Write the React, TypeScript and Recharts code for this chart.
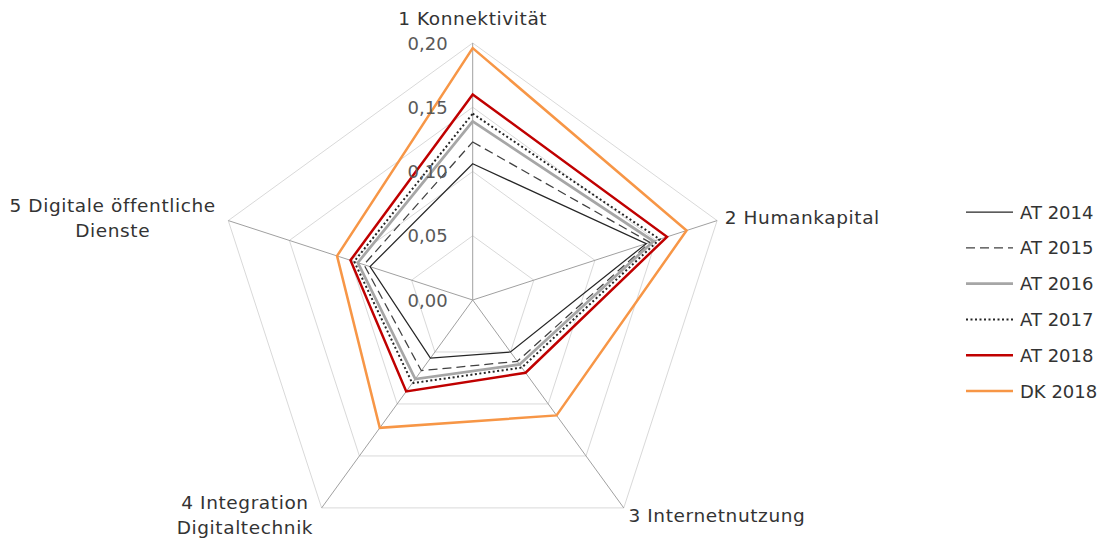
import React from "react";
import {
  RadarChart,
  Radar,
  PolarGrid,
  PolarAngleAxis,
  PolarRadiusAxis,
} from "recharts";

// DESI-Dimensionen, Werte
const CATEGORIES = [
  "1 Konnektivität",
  "2 Humankapital",
  "3 Internetnutzung",
  "4 Integration\nDigitaltechnik",
  "5 Digitale öffentliche\nDienste",
];

const AT_2014 = [0.106, 0.142, 0.05, 0.056, 0.084];
const AT_2015 = [0.123, 0.145, 0.059, 0.068, 0.089];
const AT_2016 = [0.139, 0.148, 0.062, 0.076, 0.094];
const AT_2017 = [0.145, 0.153, 0.065, 0.08, 0.097];
const AT_2018 = [0.16, 0.159, 0.07, 0.088, 0.1];
const DK_2018 = [0.196, 0.175, 0.111, 0.123, 0.111];

const RADIUS_TICKS = [0, 0.05, 0.1, 0.15, 0.2];

const SERIES = [
  { key: "at2014", name: "AT 2014", values: AT_2014, color: "#262626", width: 1.25, dash: undefined },
  { key: "at2015", name: "AT 2015", values: AT_2015, color: "#404040", width: 1.25, dash: "9 5" },
  { key: "at2016", name: "AT 2016", values: AT_2016, color: "#a6a6a6", width: 2.75, dash: undefined },
  { key: "at2017", name: "AT 2017", values: AT_2017, color: "#262626", width: 2, dash: "2 2.5" },
  { key: "at2018", name: "AT 2018", values: AT_2018, color: "#c00000", width: 2.5, dash: undefined },
  { key: "dk2018", name: "DK 2018", values: DK_2018, color: "#f79646", width: 2.5, dash: undefined },
];

const data = CATEGORIES.map((axis, i) => {
  const row: Record<string, any> = { axis };
  SERIES.forEach((s) => (row[s.key] = s.values[i]));
  return row;
});

const FONT = "'DejaVu Sans', sans-serif";
const TEXT = "#333333";

// where each dimension label sits relative to its tick point
const LABEL_LAYOUT = [
  { anchor: "middle", dx: 0, dy: -17 },
  { anchor: "start", dx: 0, dy: -1 },
  { anchor: "start", dx: 0, dy: 1 },
  { anchor: "middle", dx: -72, dy: -12 },
  { anchor: "middle", dx: -108, dy: -13 },
];

function AngleTick(props: any) {
  const { x, y, payload, index } = props;
  const lay = LABEL_LAYOUT[index] || LABEL_LAYOUT[0];
  const lines = String(payload.value).split("\n");
  return (
    <text
      x={x + lay.dx}
      y={y + lay.dy}
      textAnchor={lay.anchor}
      dominantBaseline="central"
      fill={TEXT}
      fontFamily={FONT}
      fontSize={18.5}
      letterSpacing={0.6}
    >
      {lines.map((l, i) => (
        <tspan key={i} x={x + lay.dx} dy={i === 0 ? 0 : 25}>
          {l}
        </tspan>
      ))}
    </text>
  );
}

function RadiusTick(props: any) {
  const { x, y, payload } = props;
  return (
    <text
      x={x - 25}
      y={y}
      textAnchor="end"
      dominantBaseline="central"
      fill="#595959"
      fontFamily={FONT}
      fontSize={18}
    >
      {Number(payload.value).toFixed(2).replace(".", ",")}
    </text>
  );
}

function LegendBox() {
  return (
    <svg
      width={140}
      height={220}
      style={{ position: "absolute", left: 950, top: 188 }}
    >
      {SERIES.map((s, i) => {
        const y = 16 + i * 35.8;
        return (
          <g key={s.key}>
            <line
              x1={8}
              x2={55}
              y1={y}
              y2={y}
              stroke={s.color}
              strokeWidth={s.width}
              strokeDasharray={s.dash}
            />
            <text
              x={62}
              y={y}
              dominantBaseline="central"
              fill={TEXT}
              fontFamily={FONT}
              fontSize={18}
            >
              {s.name}
            </text>
          </g>
        );
      })}
    </svg>
  );
}

export default function App() {
  return (
    <div style={{ position: "relative", width: 1090, height: 533, background: "#fff" }}>
      <RadarChart
        width={1090}
        height={533}
        data={data}
        cx={464.7}
        cy={292}
        outerRadius={257}
        margin={{ top: 0, right: 0, bottom: 0, left: 0 }}
      >
        <PolarGrid gridType="polygon" radialLines={false} stroke="#d9d9d9" strokeWidth={1} />
        <PolarGrid gridType="polygon" polarRadius={[0]} stroke="#a0a0a0" strokeWidth={1} />
        <PolarAngleAxis
          dataKey="axis"
          tick={<AngleTick />}
          tickLine={false}
          axisLine={false}
        />
        <PolarRadiusAxis
          angle={90}
          domain={[0, 0.2]}
          ticks={RADIUS_TICKS as any}
          tickCount={5}
          tick={<RadiusTick />}
          axisLine={false}
          tickLine={false}
        />
        {SERIES.map((s) => (
          <Radar
            key={s.key}
            name={s.name}
            dataKey={s.key}
            stroke={s.color}
            strokeWidth={s.width}
            strokeDasharray={s.dash}
            fill="none"
            fillOpacity={0}
            dot={false}
            isAnimationActive={false}
          />
        ))}
      </RadarChart>
      <LegendBox />
    </div>
  );
}
